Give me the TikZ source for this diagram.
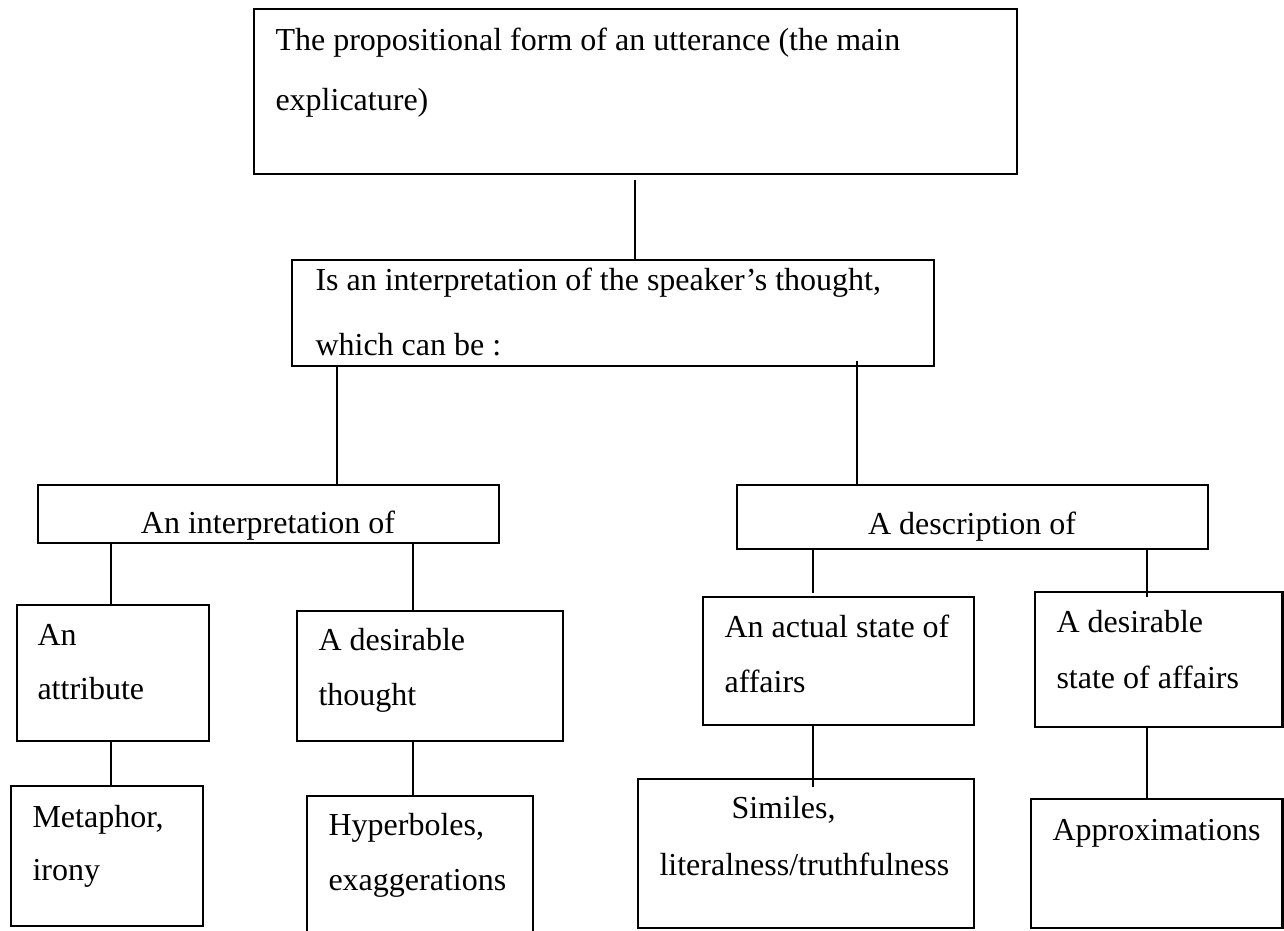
\documentclass[tikz,border=0pt]{standalone}
\usepackage{fontspec}
\setmainfont{Liberation Serif}
\usetikzlibrary{fit}
\begin{document}
\begin{tikzpicture}[x=0.375pt,y=-0.375pt,
  box/.style={draw, line width=0.8pt, inner sep=0pt, outer sep=0pt},
  txt/.style={anchor=base west, inner sep=0pt, font=\fontsize{12pt}{14pt}\selectfont},
  ctxt/.style={anchor=base, inner sep=0pt, font=\fontsize{12pt}{14pt}\selectfont},
  link/.style={line width=0.8pt}]
\useasboundingbox (0,0) rectangle (1284,930);
% boxes
\node[box, fit={(254,9) (1017,174)}] (top) {};
\node[box, fit={(292,260) (934,366)}] (mid) {};
\node[box, fit={(38,485) (499,543)}] (interp) {};
\node[box, fit={(737,485) (1208,549)}] (desc) {};
\node[box, fit={(17,605) (209,741)}] (attr) {};
\node[box, fit={(297,611) (563,741)}] (dthought) {};
\node[box, fit={(703,597) (974,725)}] (actual) {};
\node[box, fit={(1035,592) (1282.5,727)}] (dstate) {};
\node[box, fit={(11,786) (203,926)}] (meta) {};
\node[box, fit={(307,796) (533,935)}] (hyper) {};
\node[box, fit={(638,779) (974,928)}] (simil) {};
\node[box, fit={(1031,799) (1282.5,928)}] (approx) {};
% texts
\node[txt] (t1) at (275,50) {The propositional form of an utterance (the main};
\node[txt] (t2) at (275,110) {explicature)};
\node[txt] (t3) at (315,290) {Is an interpretation of the speaker’s thought,};
\node[txt] (t4) at (315,355) {which can be :};
\node[ctxt] (t5) at (268,533) {An interpretation of};
\node[ctxt] (t6) at (972,534) {A description of};
\node[txt] (t7) at (37,645) {An};
\node[txt] (t8) at (37,699) {attribute};
\node[txt] (t9) at (318,650) {A desirable};
\node[txt] (t10) at (318,705) {thought};
\node[txt] (t11) at (724,637) {An actual state of};
\node[txt] (t12) at (724,692) {affairs};
\node[txt] (t13) at (1056,632) {A desirable};
\node[txt] (t14) at (1056,688) {state of affairs};
\node[txt] (t15) at (32,827) {Metaphor,};
\node[txt] (t16) at (32,880) {irony};
\node[txt] (t17) at (328,835) {Hyperboles,};
\node[txt] (t18) at (328,890) {exaggerations};
\node[txt] (t19) at (731,818) {Similes,};
\node[txt] (t20) at (659,875) {literalness/truthfulness};
\node[txt] (t21) at (1052,840) {Approximations};
% connector x positions
\coordinate (xa) at (635,0);
\coordinate (xb) at (337,0);
\coordinate (xc) at (857,0);
\coordinate (xd) at (111,0);
\coordinate (xe) at (413,0);
\coordinate (xf) at (813,0);
\coordinate (xg) at (1147,0);
\coordinate (topfree) at (635,180);
\coordinate (free) at (857,361);
% connectors
\draw[link] (topfree) -- (mid.north -| xa);
\draw[link] (mid.south -| xb) -- (interp.north -| xb);
\draw[link] (free) -- (desc.north -| xc);
\draw[link] (interp.south -| xd) -- (attr.north -| xd);
\draw[link] (interp.south -| xe) -- (dthought.north -| xe);
\draw[link] (desc.south -| xf) -- ([yshift=1.5pt]actual.north -| xf);
\draw[link] (desc.south -| xg) -- ([yshift=-2pt]dstate.north -| xg);
\draw[link] (attr.south -| xd) -- (meta.north -| xd);
\draw[link] (dthought.south -| xe) -- (hyper.north -| xe);
\draw[link] (actual.south -| xf) -- ([yshift=-3pt]simil.north -| xf);
\draw[link] (dstate.south -| xg) -- (approx.north -| xg);
\end{tikzpicture}
\end{document}
